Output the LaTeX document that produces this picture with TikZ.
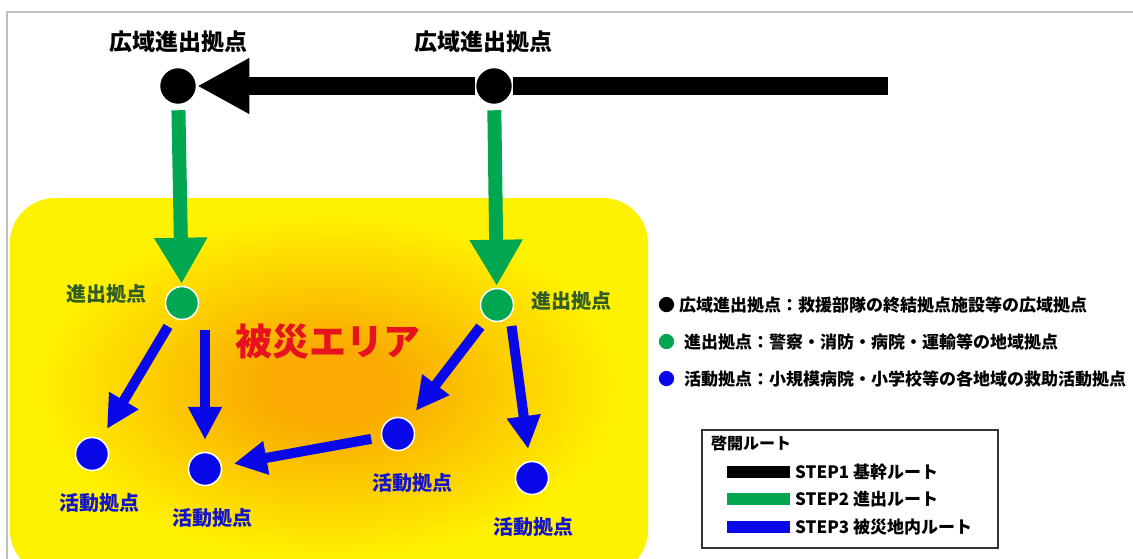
\documentclass[tikz,border=0pt]{standalone}
\usepackage{fontspec}
\setmainfont{Noto Sans CJK JP}
\usetikzlibrary{arrows.meta,positioning}

\definecolor{routegreen}{RGB}{0,166,80}
\definecolor{routeblue}{RGB}{8,8,232}
\definecolor{labelgreen}{RGB}{48,92,38}
\definecolor{labelblue}{RGB}{20,20,205}
\definecolor{areared}{RGB}{232,18,30}
\definecolor{areaorange}{RGB}{250,170,0}
\definecolor{areayellow}{RGB}{255,242,0}

\pgfdeclareradialshading{areashade}{\pgfpoint{0bp}{0bp}}{%
    color(0bp)=(areaorange); color(5bp)=(areaorange);
    color(23bp)=(areayellow); color(50bp)=(areayellow)}

\def\sitesize{33pt}

\begin{document}
\begin{tikzpicture}[x=1pt,y=-1pt,font=\bfseries]
    \tikzstyle{frame}=[draw=black!25,line width=1.5pt]
    \tikzstyle{base}=[circle,draw=white,line width=1.5pt,inner sep=0pt]
    \tikzstyle{wide base}=[base,fill=black,minimum size=37pt]
    \tikzstyle{entry base}=[base,fill=routegreen,minimum size=\sitesize]
    \tikzstyle{action base}=[base,fill=routeblue,minimum size=\sitesize]
    \tikzstyle{wide label}=[inner sep=0pt,font=\bfseries\fontsize{23}{23}\selectfont]
    \tikzstyle{entry label}=[inner sep=0pt,text=labelgreen,font=\bfseries\fontsize{20}{20}\selectfont]
    \tikzstyle{action label}=[inner sep=0pt,text=labelblue,font=\bfseries\fontsize{20}{20}\selectfont]
    \tikzstyle{area label}=[inner sep=0pt,text=areared,font=\bfseries\fontsize{37}{37}\selectfont]
    \tikzstyle{trunk line}=[draw=black,line width=18pt]
    \tikzstyle{trunk route}=[trunk line,-{Triangle[length=52pt,width=52pt]}]
    \tikzstyle{entry route}=[draw=routegreen,line width=14pt,shorten <=5pt,shorten >=2pt,
        -{Triangle[length=46pt,width=50pt]}]
    \tikzstyle{action route}=[draw=routeblue,line width=10pt,shorten <=10pt,shorten >=12pt,
        -{Triangle[length=33pt,width=32pt]}]
    \tikzstyle{key text}=[inner sep=0pt,anchor=west,font=\bfseries\fontsize{17}{17}\selectfont]
    \tikzstyle{key box}=[draw=black!80,line width=1.2pt,fill=white]

    \useasboundingbox (0,0) rectangle (1133,559);
    \clip (0,0) rectangle (1133,559);

    % Frame and the stricken area
    \draw[frame] (7,570) |- (1140,12);
    \shade[shading=areashade,rounded corners=45pt] (10,198) rectangle (648,575);

    % Wide-area bases
    \node[wide base] (B1) at (178,86) {};
    \node[wide base] (B2) at (494,86) {};
    \coordinate (BE) at (888,86);

    % Entry bases
    \node[entry base] (G1) at (182,303) {};
    \node[entry base] (G2) at (497,305) {};

    % Action bases
    \node[action base] (A1) at (92,454) {};
    \node[action base] (A2) at (205,469) {};
    \node[action base] (A3) at (398,434) {};
    \node[action base] (A4) at (532,478) {};

    % STEP1 trunk route
    \draw[trunk line] (BE) -- (B2);
    \draw[trunk route] (B2) -- (B1);

    % STEP2 entry routes
    \draw[entry route] (B1) -- (G1);
    \draw[entry route] (B2) -- (G2);

    % STEP3 routes inside the area
    \draw[action route] (G1) -- (A1);
    \draw[action route] (A2 |- G1.south) -- (A2);
    \draw[action route] (G2) -- (A3);
    \draw[action route] (G2.-40) -- (A4);
    \draw[action route] (A3) -- (A2);

    % Labels
    \node[wide label,above=14pt of B1] (B1-l) {広域進出拠点};
    \node[wide label,above=14pt of B2,xshift=-11pt] (B2-l) {広域進出拠点};
    \node[entry label,left=18pt of G1,yshift=9pt] (G1-l) {進出拠点};
    \node[entry label,right=17pt of G2,yshift=4pt] (G2-l) {進出拠点};
    \node[action label,below=22pt of A1,xshift=7pt] (A1-l) {活動拠点};
    \node[action label,below=22pt of A2,xshift=7pt] (A2-l) {活動拠点};
    \node[action label,below=22pt of A3,xshift=14pt] (A3-l) {活動拠点};
    \node[action label,below=22pt of A4,xshift=1pt] (A4-l) {活動拠点};
    \node[area label] (area) at (328,342) {被災エリア};

    % Key of the bases
    \node[key text] (K1) at (658,305) {●\hspace{4pt}広域進出拠点：救援部隊の終結拠点施設等の広域拠点};
    \node[key text] (K2) at (658,342) {{\color{routegreen}●}\hspace{9pt}進出拠点：警察・消防・病院・運輸等の地域拠点};
    \node[key text] (K3) at (658,379) {{\color{routeblue}●}\hspace{9pt}活動拠点：小規模病院・小学校等の各地域の救助活動拠点};

    % Key of the routes
    \node[key box,minimum width=296pt,minimum height=118pt] (KB) at (850,489) {};
    \node[key text,font=\bfseries\fontsize{16}{16}\selectfont] (KT) at (711,443) {啓開ルート};
    \foreach \n/\y/\col/\txt in {1/472/black/基幹ルート,2/499/routegreen/進出ルート,3/527/routeblue/被災地内ルート}
    {
        \coordinate (S-\n) at (727,\y);
        \draw[draw=\col,line width=12pt] (S-\n) -- ++(63,0);
        \node[key text] (T-\n) at (795,\y) {STEP\n\ \txt};
    }
\end{tikzpicture}
\end{document}
